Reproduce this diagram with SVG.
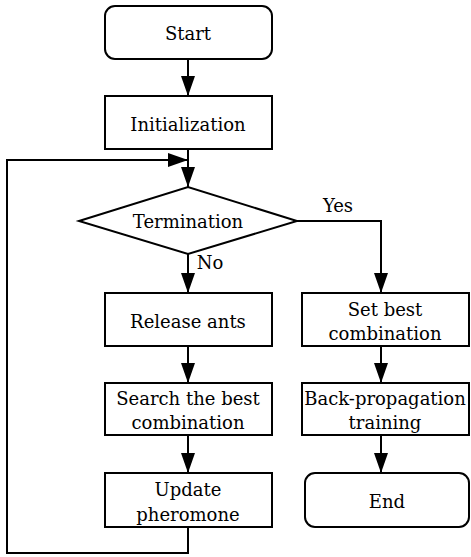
<svg xmlns="http://www.w3.org/2000/svg" width="471" height="557" viewBox="0 0 471 557">
<style>
.b{fill:#fff;stroke:#000;stroke-width:2}
.t{font-family:"DejaVu Serif","Liberation Serif",serif;font-size:18px;fill:#000;text-anchor:middle}
.c{fill:none;stroke:#000;stroke-width:2}
</style>
<defs>
<marker id="a" markerUnits="userSpaceOnUse" markerWidth="20" markerHeight="14" refX="20" refY="7" viewBox="0 0 20 14" orient="auto"><path d="M0,0 L20,7 L0,14 Z" fill="#000"/></marker>
</defs>
<rect width="471" height="557" fill="#fff"/>
<g id="connectors">
<path class="c" d="M188,59 V96" marker-end="url(#a)"/>
<path class="c" d="M188,149 V187" marker-end="url(#a)"/>
<path class="c" d="M188,527 V553 H7 V160 H188" marker-end="url(#a)"/>
<path class="c" d="M188,254 V293" marker-end="url(#a)"/>
<path class="c" d="M297,221 H381 V293" marker-end="url(#a)"/>
<path class="c" d="M188,346 V383" marker-end="url(#a)"/>
<path class="c" d="M188,435 V473" marker-end="url(#a)"/>
<path class="c" d="M381,346 V383" marker-end="url(#a)"/>
<path class="c" d="M381,435 V473" marker-end="url(#a)"/>
<text class="t" x="338" y="212">Yes</text>
<text class="t" x="210" y="269">No</text>
</g>
<g id="start"><rect class="b" x="105" y="6" width="167" height="53" rx="10"/><text class="t" x="188" y="40">Start</text></g>
<g id="init"><rect class="b" x="105" y="96" width="167" height="53"/><text class="t" x="188" y="131">Initialization</text></g>
<g id="term"><path class="b" d="M79,221 L188,187 L297,221 L188,254 Z"/><text class="t" x="188" y="228">Termination</text></g>
<g id="release"><rect class="b" x="105" y="293" width="167" height="53"/><text class="t" x="188" y="328">Release ants</text></g>
<g id="search"><rect class="b" x="105" y="383" width="167" height="52"/><text class="t" x="188" y="405">Search the best</text><text class="t" x="188" y="429">combination</text></g>
<g id="update"><rect class="b" x="105" y="473" width="167" height="54"/><text class="t" x="188" y="496">Update</text><text class="t" x="188" y="521">pheromone</text></g>
<g id="setbest"><rect class="b" x="302" y="293" width="167" height="53"/><text class="t" x="385" y="316">Set best</text><text class="t" x="385" y="340">combination</text></g>
<g id="bp"><rect class="b" x="302" y="383" width="167" height="52"/><text class="t" x="385" y="405">Back-propagation</text><text class="t" x="385" y="429">training</text></g>
<g id="end"><rect class="b" x="305" y="473" width="164" height="54" rx="10"/><text class="t" x="387" y="508">End</text></g>
</svg>
